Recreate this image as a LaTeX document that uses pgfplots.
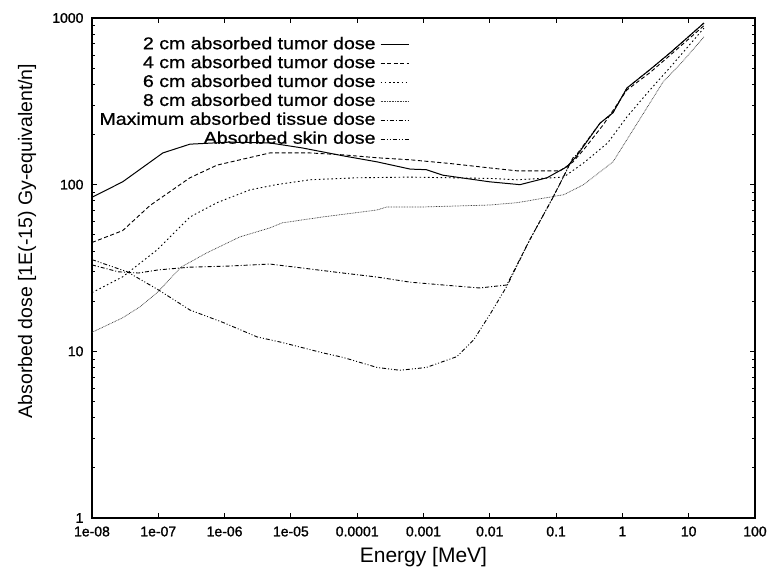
\documentclass[border=0pt]{standalone}
\usepackage{fontspec}
\setmainfont{Liberation Sans}
\newfontfamily\legfont[FakeStretch=1.15, FakeBold=0.8]{Liberation Sans}
\newfontfamily\tickfont[FakeBold=1.2]{Liberation Sans}
\usepackage{pgfplots}
\pgfplotsset{compat=1.18}
\begin{document}
\begin{tikzpicture}
\begin{axis}[
  scale only axis, width=663pt, height=500pt,
  xmode=log, ymode=log,
  xmin=1e-8, xmax=100, ymin=1, ymax=1000,
  xtick={1e-8,1e-7,1e-6,1e-5,1e-4,1e-3,1e-2,1e-1,1,10,100},
  xticklabels={1e-08,1e-07,1e-06,1e-05,0.0001,0.001,0.01,0.1,1,10,100},
  ytick={1,10,100,1000},
  yticklabels={1,10,100,1000},
  xminorticks=false,
  tick align=inside,
  major tick length=5pt, minor tick length=3pt,
  /pgf/number format/assume math mode=true,
  tick label style={font=\tickfont\fontsize{14}{15}\selectfont},
  xticklabel style={yshift=-5pt},
  yticklabel style={xshift=-5pt},
  axis line style={line width=1.1pt},
  every tick/.style={black, line width=0.8pt},
  xlabel={Energy [MeV]},
  ylabel={Absorbed dose [1E(-15) Gy-equivalent/n]},
  xlabel style={font=\fontsize{21}{23}\selectfont, at={(axis description cs:0.5,0)}, anchor=center, yshift=-39.5pt},
  ylabel style={font=\fontsize{19.5}{22}\selectfont, at={(axis description cs:-0.098,0.554)}, anchor=center},
  legend plot pos=right,
  legend cell align=right,
  legend style={draw=none, fill=none, at={(axis description cs:0.483,0.967)}, anchor=north east,
    font=\legfont\fontsize{17}{18}\selectfont, row sep=2.9pt,
    nodes={inner ysep=0pt, inner xsep=4.5pt, text height=12.5pt, text depth=3.5pt}},
  legend image code/.code={\draw[#1] (0pt,0pt) -- (28pt,0pt);},
]
% 2 cm
\addplot[black, line width=1.0pt] coordinates {
(1e-8,84) (2.9e-8,104) (1.17e-7,155) (3e-7,175) (1.2e-6,180) (4.8e-6,178)
(1.5e-5,166) (6.1e-5,149) (2e-4,137) (6.3e-4,124) (1.1e-3,123) (1.95e-3,114)
(1e-2,104) (0.0285,100) (0.073,110) (0.145,128) (0.2,147) (0.46,234) (0.72,270)
(1.17,380) (2.6,490) (5.3,620) (17,933)};
\addlegendentry{2 cm absorbed tumor dose}
% 4 cm
\addplot[black, line width=0.9pt, dash pattern=on 4pt off 2.5pt] coordinates {
(1e-8,45) (2.9e-8,53) (7.5e-8,75) (3e-7,110) (7.7e-7,131) (4.8e-6,155)
(1.95e-5,155) (6.1e-5,151) (2e-4,145) (6.3e-4,141) (2.5e-3,134) (1e-2,126)
(0.026,121) (0.115,121) (0.18,137) (0.26,162) (0.52,230) (1.17,370) (2.6,470)
(5.3,600) (17,900)};
\addlegendentry{4 cm absorbed tumor dose}
% 6 cm
\addplot[black, line width=0.9pt, dash pattern=on 1.6pt off 2.6pt] coordinates {
(1e-8,22.5) (2.9e-8,28) (9.5e-8,40.5) (3e-7,64) (7.7e-7,78) (2.4e-6,93)
(6e-6,100) (1.95e-5,107) (1e-4,110) (6.3e-4,111) (2.5e-3,110) (1e-2,109)
(0.026,107) (0.13,111) (0.26,135) (0.6,178) (1.17,255) (2.6,370) (5.3,508)
(17,870)};
\addlegendentry{6 cm absorbed tumor dose}
% 8 cm
\addplot[black!75, line width=0.7pt, dash pattern=on 0.8pt off 0.8pt] coordinates {
(1e-8,13) (2.9e-8,15.9) (5.3e-8,18.5) (9.5e-8,22.4) (2.2e-7,32) (5.4e-7,39)
(1.7e-6,48.6) (4.8e-6,55) (7.4e-6,59) (3e-5,64) (2e-4,70.5) (2.8e-4,73.5)
(1e-3,73.5) (1e-2,75.5) (0.026,78) (0.13,87) (0.26,100) (0.72,137) (1.3,199)
(2.6,309) (4.1,413) (8,545) (17,770)};
\addlegendentry{8 cm absorbed tumor dose}
% max tissue
\addplot[black, line width=0.9pt, dash pattern=on 4pt off 2pt on 1pt off 2pt] coordinates {
(1e-8,33) (2.5e-8,30) (5e-8,29.5) (1e-7,30.8) (3e-7,32) (1.2e-6,32.5)
(4.8e-6,33.4) (1.5e-5,31.6) (6.1e-5,29.5) (2e-4,27.9) (6.3e-4,26) (2e-3,25)
(7e-3,24) (0.018,25) (0.04,46.6) (0.09,84) (0.18,145) (0.2,150) (0.46,234)
(0.72,270) (1.17,380) (2.6,490) (5.3,620) (17,933)};
\addlegendentry{Maximum absorbed tissue dose}
% skin
\addplot[black, line width=0.9pt, dash pattern=on 4pt off 2pt on 1pt off 2pt on 1pt off 2pt] coordinates {
(1e-8,35.5) (3.4e-8,30) (1e-7,23.4) (3e-7,17.7) (9.5e-7,14.9) (3.1e-6,12.2)
(7.4e-6,11.3) (3e-5,9.8) (6.1e-5,9.2) (2e-4,8.0) (4.4e-4,7.7) (1.1e-3,8.0)
(3.2e-3,9.3) (5.7e-3,11.7) (1e-2,16.6) (0.018,24.5) (0.04,46.6) (0.09,84)
(0.18,145)};
\addlegendentry{Absorbed skin dose}
\end{axis}
\pgfresetboundingbox
\path (-92pt,-53pt) rectangle (676pt,518pt);
\end{tikzpicture}
\end{document}
